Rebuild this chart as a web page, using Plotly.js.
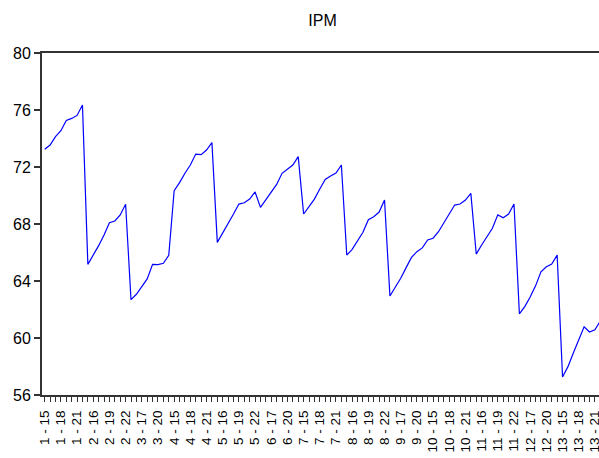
<!DOCTYPE html>
<html>
<head>
<meta charset="utf-8">
<script src="https://cdn.plot.ly/plotly-3.0.1.min.js"></script>
<style>
  html, body { margin: 0; padding: 0; background: #fff; overflow: hidden; width: 599px; height: 458px; }
  #chart { width: 620px; height: 458px; }
</style>
</head>
<body>
<div id="chart"></div>
<script>
// Cross-section ids and periods (years 15..22)
const sections = [1, 2, 3, 4, 5, 6, 7, 8, 9, 10, 11, 12, 13];
const years = [15, 16, 17, 18, 19, 20, 21, 22];

// IPM values, 8 per section
const ipm = [
  73.24, 73.54, 74.13, 74.55, 75.27, 75.41, 75.62, 76.35,
  65.17, 65.78, 66.48, 67.23, 68.09, 68.21, 68.63, 69.38,
  62.69, 63.07, 63.60, 64.15, 65.17, 65.15, 65.24, 65.80,
  70.34, 70.90, 71.56, 72.14, 72.91, 72.87, 73.19, 73.71,
  66.71, 67.35, 68.00, 68.70, 69.40, 69.49, 69.75, 70.25,
  69.17, 69.68, 70.22, 70.78, 71.56, 71.86, 72.14, 72.73,
  68.70, 69.22, 69.75, 70.46, 71.13, 71.37, 71.58, 72.14,
  65.82, 66.22, 66.81, 67.42, 68.30, 68.51, 68.84, 69.68,
  62.95, 63.56, 64.19, 64.94, 65.66, 66.06, 66.32, 66.88,
  67.00, 67.46, 68.09, 68.75, 69.33, 69.40, 69.68, 70.15,
  65.89, 66.53, 67.08, 67.70, 68.64, 68.44, 68.70, 69.40,
  61.70, 62.20, 62.88, 63.66, 64.65, 65.00, 65.19, 65.82,
  57.26, 57.99, 58.95, 59.94, 60.79, 60.42, 60.58, 61.20
];

const yTicks = [56, 60, 64, 68, 72, 76, 80];
const labelEvery = 3;

// Build period labels "s - y"
const periodLabels = [];
sections.forEach(s => years.forEach(y => periodLabels.push(s + ' - ' + y)));
const idx = periodLabels.map((_, i) => i);
const tickText = periodLabels.map((t, i) => (i % labelEvery === 0 ? t : ''));

const trace = {
  x: idx,
  y: ipm,
  type: 'scatter',
  mode: 'lines',
  line: { color: '#0000FF', width: 1.2 },
  hoverinfo: 'skip'
};

const axisColor = '#333333';
const layout = {
  width: 620,
  height: 458,
  margin: { l: 42, r: 17, t: 53, b: 63, pad: 0 },
  paper_bgcolor: '#ffffff',
  plot_bgcolor: '#ffffff',
  showlegend: false,
  font: { family: 'Liberation Sans, Arial, sans-serif', color: '#000' },
  title: {
    text: 'IPM',
    font: { family: 'Liberation Sans, Arial, sans-serif', size: 16, color: '#000' },
    x: 0.5, xref: 'paper', xanchor: 'center',
    y: 1 - 20 / 458, yref: 'container', yanchor: 'middle'
  },
  xaxis: {
    range: [-0.5, periodLabels.length - 0.5],
    tickmode: 'array',
    tickvals: idx,
    ticktext: tickText,
    tickangle: -90,
    ticks: 'outside',
    ticklen: 5,
    tickwidth: 1,
    tickcolor: axisColor,
    ticklabelstandoff: 3,
    tickfont: { size: 13.5, color: '#000' },
    showgrid: false,
    zeroline: false,
    showline: true,
    linecolor: axisColor,
    linewidth: 2,
    mirror: true,
    fixedrange: true
  },
  yaxis: {
    range: [56, 80],
    tickmode: 'array',
    tickvals: yTicks,
    ticktext: yTicks.map(String),
    ticks: 'outside',
    ticklen: 6,
    tickwidth: 1.5,
    tickcolor: axisColor,
    tickfont: { size: 16, color: '#000' },
    showgrid: false,
    zeroline: false,
    showline: true,
    linecolor: axisColor,
    linewidth: 2,
    mirror: true,
    fixedrange: true
  }
};

Plotly.newPlot('chart', [trace], layout, { displayModeBar: false, staticPlot: true });
</script>
</body>
</html>
